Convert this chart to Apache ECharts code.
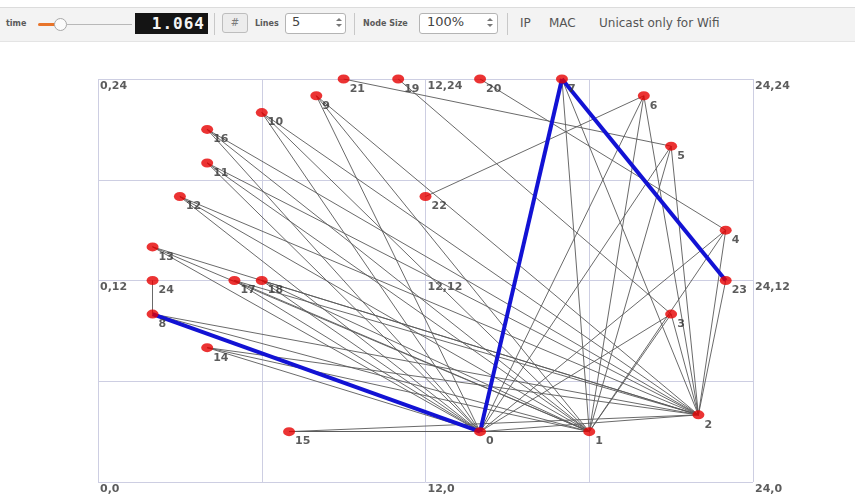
<!DOCTYPE html>
<html>
<head>
<meta charset="utf-8">
<script src="https://cdn.jsdelivr.net/npm/echarts/dist/echarts.min.js"></script>
<style>
  html, body { margin:0; padding:0; background:#ffffff; }
  #wrap { position:relative; width:855px; height:495px; overflow:hidden; }
  #chart { position:absolute; left:0; top:0; width:855px; height:495px; }
  #tb { position:absolute; left:0; top:7px; width:855px; height:33px; background:#f3f3f3;
        border-top:1px solid #dcdcdc; border-bottom:1px solid #e4e4e4; font-family:'DejaVu Sans', sans-serif; }
  .a { position:absolute; white-space:nowrap; }
  .small { font-size:8px; font-weight:bold; color:#5a5a5a; }
  .sep { position:absolute; top:5px; width:1px; height:22px; background:#c8c8c8; }
  .box { position:absolute; background:#fff; border:1px solid #b4b4b4; border-radius:3px; box-sizing:border-box; }
  .up { position:absolute; width:0; height:0; border-left:3px solid transparent; border-right:3px solid transparent; border-bottom:3px solid #777; }
  .dn { position:absolute; width:0; height:0; border-left:3px solid transparent; border-right:3px solid transparent; border-top:3px solid #777; }
  .tx { font-size:12px; color:#555; }
</style>
</head>
<body>
<div id="wrap">
  <div id="chart"></div>
  <div id="tb">
    <div class="a small" style="left:6px; top:11px;">time</div>
    <div class="a" style="left:38px; top:15px; width:20px; height:3px; background:#e8742a; border-radius:2px;"></div>
    <div class="a" style="left:67px; top:16px; width:65px; height:1px; background:#b8b8b8;"></div>
    <div class="a" style="left:54px; top:10px; width:11px; height:11px; border-radius:50%; border:1px solid #a8a8a8; background:#fbfbfb;"></div>
    <div class="a" style="left:135px; top:5px; width:73px; height:21px; background:#141414;"></div>
    <div class="a" style="left:135px; top:6px; width:70px; text-align:right; font-family:'DejaVu Sans Mono', monospace; font-weight:bold; font-size:16px; color:#f4f4f4; letter-spacing:1px;">1.064</div>
    <div class="sep" style="left:214px;"></div>
    <div class="a" style="left:222px; top:5px; width:26px; height:20px; border:1px solid #bdbdbd; border-radius:3px; background:#ececec; box-sizing:border-box; text-align:center; font-size:10px; color:#7a7a7a; line-height:18px;">#</div>
    <div class="a small" style="left:255px; top:11px;">Lines</div>
    <div class="box" style="left:285px; top:5px; width:61px; height:21px;"></div>
    <div class="a" style="left:292px; top:6px; font-size:13px; color:#444;">5</div>
    <div class="up" style="left:336px; top:10px;"></div>
    <div class="dn" style="left:336px; top:16px;"></div>
    <div class="sep" style="left:354px;"></div>
    <div class="a small" style="left:363px; top:11px;">Node Size</div>
    <div class="box" style="left:419px; top:5px; width:79px; height:21px;"></div>
    <div class="a" style="left:427px; top:6px; font-size:13px; color:#444;">100%</div>
    <div class="up" style="left:487px; top:10px;"></div>
    <div class="dn" style="left:487px; top:16px;"></div>
    <div class="sep" style="left:507px;"></div>
    <div class="a tx" style="left:520px; top:8px;">IP</div>
    <div class="a tx" style="left:549px; top:8px;">MAC</div>
    <div class="a tx" style="left:599px; top:8px;">Unicast only for Wifi</div>
  </div>
</div>
<script>
// ---- data ----
const nodeIds = [0,1,2,3,4,5,6,7,8,9,10,11,12,13,14,15,16,17,18,19,20,21,22,23,24];
const nodeX   = [14,18,22,21,23,21,20,17,2,8,6,4,3,2,4,7,4,5,6,11,14,9,12,23,2];
const nodeY   = [3,3,4,10,15,20,23,24,10,23,22,19,17,14,8,3,21,12,12,24,24,24,17,12,12];

const grayEdges = [
  [9,0],[9,1],[9,2],
  [10,0],[10,1],[10,2],
  [16,0],[16,1],[16,2],
  [11,0],[11,1],[11,2],
  [12,0],[12,1],[12,2],
  [13,0],[13,1],[13,2],
  [17,0],[17,1],[17,2],
  [18,0],[18,1],[18,2],
  [14,0],[14,1],[14,2],
  [15,0],[15,1],[15,2],
  [8,1],[8,2],[8,24],
  [7,1],[7,2],
  [6,0],[6,1],[6,2],[6,22],
  [5,0],[5,1],[5,2],[5,21],
  [4,0],[4,1],[4,2],[4,20],
  [3,0],[3,1],[3,2],[3,19],
  [23,2],
  [0,1],[0,2]
];
const blueEdges = [[8,0],[0,7],[7,23]];

const gridTicks = [0,12,24];

// ---- build ----
const pos = id => [nodeX[nodeIds.indexOf(id)], nodeY[nodeIds.indexOf(id)]];
const toLines = edges => edges.map(e => ({ coords: [pos(e[0]), pos(e[1])] }));
const nodeData = nodeIds.map((id, i) => ({ name: String(id), value: [nodeX[i], nodeY[i]] }));
const cornerData = [];
gridTicks.slice().reverse().forEach(y => gridTicks.forEach(x => cornerData.push({ value: [x, y], name: x + ',' + y })));

const chart = echarts.init(document.getElementById('chart'));
const axisCommon = {
  type: 'value', min: 0, max: 24, interval: 6,
  axisLabel: { show: false }, axisLine: { show: false }, axisTick: { show: false },
  splitLine: { show: true, showMinLine: true, showMaxLine: true, lineStyle: { color: '#cdcee2', width: 1 } }
};
chart.setOption({
  animation: false,
  backgroundColor: '#ffffff',
  grid: { left: 98, right: 102, top: 79, bottom: 13, containLabel: false },
  xAxis: axisCommon,
  yAxis: axisCommon,
  series: [
    {
      type: 'lines', coordinateSystem: 'cartesian2d', z: 2, silent: true,
      lineStyle: { color: '#5a5a5a', width: 1, opacity: 0.9 },
      data: toLines(grayEdges)
    },
    {
      type: 'lines', coordinateSystem: 'cartesian2d', z: 3, silent: true,
      lineStyle: { color: '#1212d4', width: 4, opacity: 1 },
      data: toLines(blueEdges)
    },
    {
      type: 'scatter', z: 4, symbol: 'circle', symbolSize: [12, 9],
      itemStyle: { color: '#e60000' },
      label: {
        show: true, formatter: p => p.name, position: [12, 14.5], align: 'left', verticalAlign: 'middle',
        fontFamily: 'DejaVu Sans', fontSize: 11, fontWeight: 'bold', color: '#333333'
      },
      data: nodeData
    },
    {
      type: 'scatter', z: 1, symbolSize: 0, silent: true,
      label: {
        show: true, formatter: p => p.name, position: [2, 7], align: 'left', verticalAlign: 'middle',
        fontFamily: 'DejaVu Sans', fontSize: 11, fontWeight: 'bold', color: '#333333'
      },
      data: cornerData
    }
  ]
});
</script>
</body>
</html>
